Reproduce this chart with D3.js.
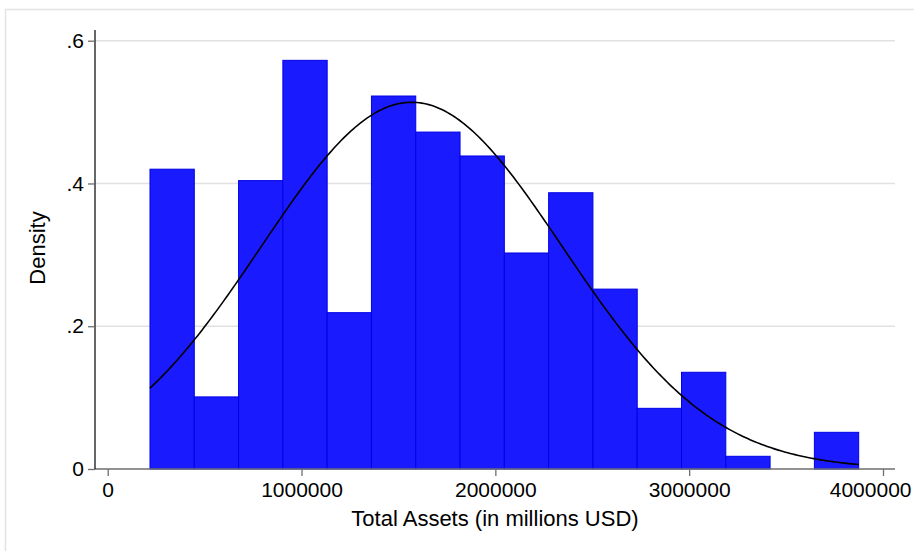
<!DOCTYPE html>
<html>
<head>
<meta charset="utf-8">
<script src="https://cdn.jsdelivr.net/npm/d3@7"></script>
<style>
  html, body { margin: 0; padding: 0; background: #fff; }
  svg { display: block; font-family: "Liberation Sans", Arial, Helvetica, sans-serif; }
</style>
</head>
<body>
<svg id="chart" width="914" height="551"></svg>
<script>
// ---- data ----
const binStart = 218200;          // lower edge of first bin (USD millions)
const binWidth = 228520;          // bin width
const densities = [0.420, 0.101, 0.404, 0.5725, 0.219, 0.5225, 0.472, 0.4385,
                   0.3026, 0.387, 0.252, 0.085, 0.1355, 0.0178, 0, 0.0514];
const normalMean = 1568600;       // fitted normal overlay
const normalSD = 776600;
const xTicks = [0, 1000000, 2000000, 3000000, 4000000];
const xTickLabels = ["0", "1000000", "2000000", "3000000", "4000000"];
const yTicks = [0, 0.2, 0.4, 0.6];
const yTickLabels = ["0", ".2", ".4", ".6"];
const xTitle = "Total Assets (in millions USD)";
const yTitle = "Density";

// ---- layout ----
const svg = d3.select("#chart");
const W = 914, H = 551;
const plotLeft = 95, plotRight = 895;

const x = d3.scaleLinear().domain([0, 4000000]).range([107.7, 883]);
const y = d3.scaleLinear().domain([0, 0.6]).range([469, 40.7]);

// outer frame
svg.append("rect")
  .attr("x", 5.5).attr("y", 9.5)
  .attr("width", W + 10).attr("height", H + 10)
  .attr("fill", "none").attr("stroke", "#e3e3e3").attr("stroke-width", 1.5);

// gridlines
svg.append("g").selectAll("line")
  .data(yTicks.filter(d => d > 0))
  .join("line")
  .attr("x1", plotLeft).attr("x2", plotRight)
  .attr("y1", d => y(d)).attr("y2", d => y(d))
  .attr("stroke", "#e1e1e1").attr("stroke-width", 1.5);

// bars
const bins = densities.map((d, i) => ({ x0: binStart + i * binWidth, x1: binStart + (i + 1) * binWidth, v: d }));
svg.append("g").selectAll("rect")
  .data(bins.filter(b => b.v > 0))
  .join("rect")
  .attr("x", b => x(b.x0))
  .attr("width", b => x(b.x1) - x(b.x0))
  .attr("y", b => y(b.v))
  .attr("height", b => y(0) - y(b.v))
  .attr("fill", "#1a1aff")
  .attr("stroke", "#0000e6")
  .attr("stroke-width", 1);

// normal density overlay
const xMin = binStart, xMax = binStart + densities.length * binWidth;
const curvePts = d3.range(0, 301).map(i => {
  const xv = xMin + (xMax - xMin) * i / 300;
  const z = (xv - normalMean) / normalSD;
  return [xv, Math.exp(-0.5 * z * z) / (normalSD / 1e6 * Math.sqrt(2 * Math.PI))];
});
svg.append("path")
  .datum(curvePts)
  .attr("fill", "none")
  .attr("stroke", "#000")
  .attr("stroke-width", 1.6)
  .attr("d", d3.line().x(d => x(d[0])).y(d => y(d[1])));

// x axis
svg.append("line")
  .attr("x1", plotLeft).attr("x2", plotRight)
  .attr("y1", 469).attr("y2", 469)
  .attr("stroke", "#6e6e6e").attr("stroke-width", 1.5);
const xAxis = d3.axisBottom(x).tickValues(xTicks)
  .tickFormat((d, i) => xTickLabels[i]).tickSize(7).tickPadding(6);
const xa = svg.append("g").attr("transform", "translate(0,469)").call(xAxis);
xa.select(".domain").remove();
xa.selectAll(".tick line").attr("stroke", "#6e6e6e").attr("stroke-width", 1.3);
xa.selectAll(".tick text").attr("font-size", 21).attr("fill", "#000")
  .attr("font-family", "Liberation Sans, Arial, sans-serif").attr("dy", "0.71em");
// last label is pushed inside the frame, as in the reference
xa.selectAll(".tick").filter(d => d === xTicks[xTicks.length - 1]).select("text")
  .attr("text-anchor", "end").attr("x", W - 3 - x(xTicks[xTicks.length - 1]));

// y axis
svg.append("line")
  .attr("x1", plotLeft).attr("x2", plotLeft)
  .attr("y1", 30).attr("y2", 469)
  .attr("stroke", "#000").attr("stroke-width", 1.2);
const yAxis = d3.axisLeft(y).tickValues(yTicks)
  .tickFormat((d, i) => yTickLabels[i]).tickSize(7).tickPadding(4);
const ya = svg.append("g").attr("transform", `translate(${plotLeft},0)`).call(yAxis);
ya.select(".domain").remove();
ya.selectAll(".tick line").attr("stroke", "#6e6e6e").attr("stroke-width", 1.3);
ya.selectAll(".tick text").attr("font-size", 21).attr("fill", "#000")
  .attr("font-family", "Liberation Sans, Arial, sans-serif");

// titles
svg.append("text")
  .attr("x", (plotLeft + plotRight) / 2).attr("y", 526)
  .attr("text-anchor", "middle").attr("font-size", 22).attr("fill", "#000")
  .text(xTitle);
svg.append("text")
  .attr("transform", "translate(45,248) rotate(-90)")
  .attr("text-anchor", "middle").attr("font-size", 22).attr("fill", "#000")
  .text(yTitle);
</script>
</body>
</html>
